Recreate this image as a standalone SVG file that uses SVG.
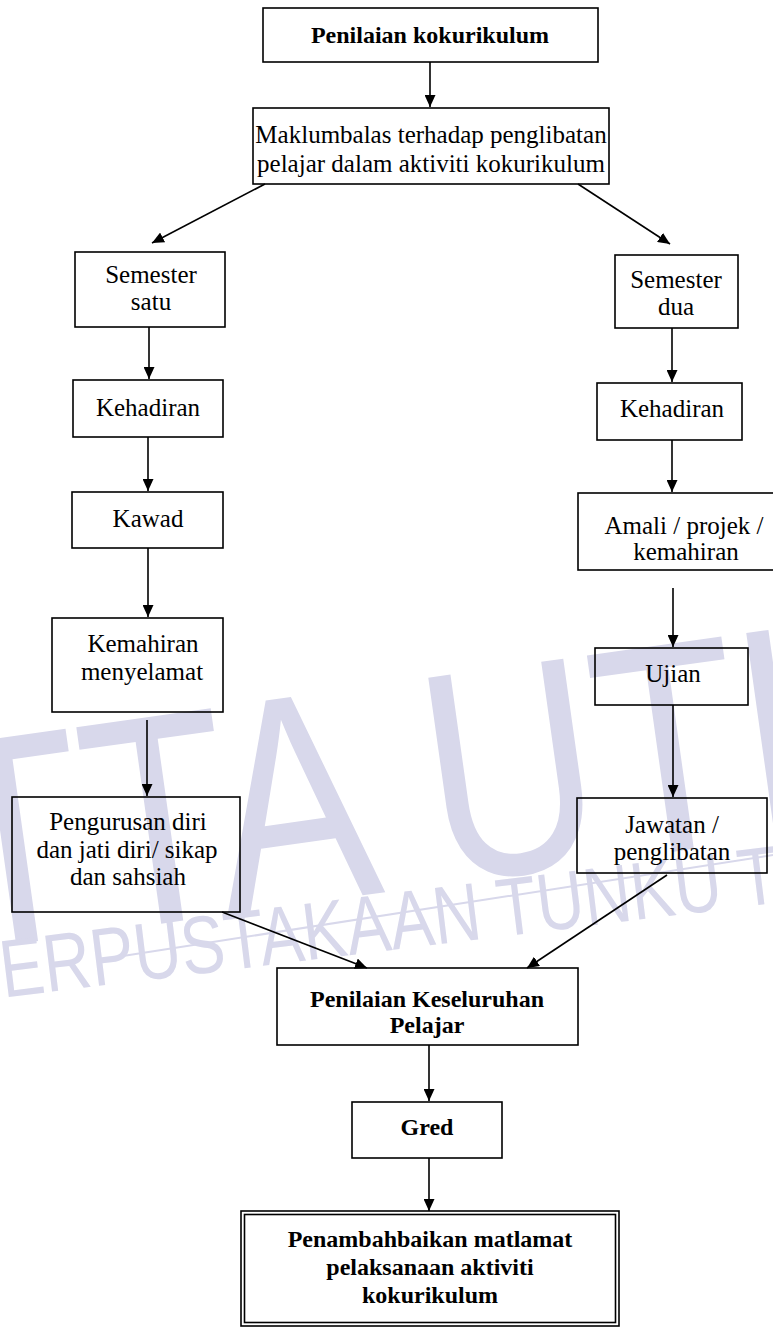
<svg xmlns="http://www.w3.org/2000/svg" width="773" height="1327" viewBox="0 0 773 1327">
<defs>
<style>
.box{fill:none;stroke:#000;stroke-width:1.6}
.t{font-family:"Liberation Serif","Times New Roman",serif;font-size:25px;fill:#000;text-anchor:middle}
.b{font-weight:bold;font-size:24px}
.c{stroke:#000;stroke-width:1.6;fill:none;marker-end:url(#ah)}
.wm{font-family:"Liberation Sans",Arial,sans-serif;fill:#d8d8eb}
</style>
<marker id="ah" markerUnits="userSpaceOnUse" markerWidth="12" markerHeight="11" refX="12" refY="5.5" orient="auto" viewBox="0 0 12 11">
<path d="M0,0 L12,5.5 L0,11 z" fill="#000"/>
</marker>
</defs>
<rect width="773" height="1327" fill="#fff"/>
<g id="watermark">
<text class="wm" font-size="300" transform="translate(-204,975) rotate(-8) scale(0.8,1)">PTTA UTHM</text>
<line x1="110" y1="958" x2="773" y2="855" stroke="#d8d8eb" stroke-width="2"/>
<text class="wm" font-size="82" transform="translate(-40,1003) rotate(-7) scale(0.8,1)">PERPUSTAKAAN TUNKU TUN AMINAH</text>
</g>
<g id="connectors">
<line class="c" x1="430" y1="62" x2="430" y2="107"/>
<line class="c" x1="265" y1="184" x2="152" y2="243"/>
<line class="c" x1="578" y1="184" x2="670" y2="244"/>
<line class="c" x1="149" y1="327" x2="149" y2="379"/>
<line class="c" x1="148" y1="437" x2="148" y2="491"/>
<line class="c" x1="148" y1="548" x2="148" y2="617"/>
<line class="c" x1="147" y1="720" x2="147" y2="796"/>
<line class="c" x1="672" y1="328" x2="672" y2="382"/>
<line class="c" x1="672" y1="440" x2="672" y2="492"/>
<line class="c" x1="673" y1="588" x2="673" y2="647"/>
<line class="c" x1="673" y1="705" x2="673" y2="797"/>
<line class="c" x1="222" y1="912" x2="367" y2="968"/>
<line class="c" x1="667" y1="875" x2="527" y2="968"/>
<line class="c" x1="429" y1="1045" x2="429" y2="1101"/>
<line class="c" x1="429" y1="1158" x2="429" y2="1211"/>
</g>
<g id="n1"><rect class="box" x="263" y="8" width="335" height="54"/><text class="t b" x="430" y="43">Penilaian kokurikulum</text></g>
<g id="n2"><rect class="box" x="253" y="108" width="356" height="76"/><text class="t" x="431" y="143">Maklumbalas terhadap penglibatan</text><text class="t" x="431" y="172">pelajar dalam aktiviti kokurikulum</text></g>
<g id="n3"><rect class="box" x="75" y="252" width="150" height="75"/><text class="t" x="151" y="283">Semester</text><text class="t" x="151" y="310">satu</text></g>
<g id="n4"><rect class="box" x="73" y="380" width="150" height="57"/><text class="t" x="148" y="416">Kehadiran</text></g>
<g id="n5"><rect class="box" x="72" y="492" width="151" height="56"/><text class="t" x="148" y="527">Kawad</text></g>
<g id="n6"><rect class="box" x="52" y="618" width="171" height="94"/><text class="t" x="143" y="652">Kemahiran</text><text class="t" x="142" y="680">menyelamat</text></g>
<g id="n7"><rect class="box" x="12" y="797" width="228" height="115"/><text class="t" x="128" y="830">Pengurusan diri</text><text class="t" x="127" y="858">dan jati diri/ sikap</text><text class="t" x="128" y="885">dan sahsiah</text></g>
<g id="n8"><rect class="box" x="615" y="255" width="123" height="73"/><text class="t" x="676" y="288">Semester</text><text class="t" x="676" y="315">dua</text></g>
<g id="n9"><rect class="box" x="597" y="383" width="145" height="57"/><text class="t" x="672" y="417">Kehadiran</text></g>
<g id="n10"><rect class="box" x="578" y="493" width="220" height="77"/><text class="t" x="684" y="534">Amali / projek /</text><text class="t" x="686" y="560">kemahiran</text></g>
<g id="n11"><rect class="box" x="595" y="648" width="153" height="57"/><text class="t" x="673" y="682">Ujian</text></g>
<g id="n12"><rect class="box" x="577" y="798" width="190" height="75"/><text class="t" x="672" y="833">Jawatan /</text><text class="t" x="672" y="860">penglibatan</text></g>
<g id="n13"><rect class="box" x="277" y="968" width="301" height="77"/><text class="t b" x="427" y="1007">Penilaian Keseluruhan</text><text class="t b" x="427" y="1033">Pelajar</text></g>
<g id="n14"><rect class="box" x="352" y="1102" width="150" height="56"/><text class="t b" x="427" y="1135">Gred</text></g>
<g id="n15"><rect class="box" x="241" y="1211" width="378" height="115"/><rect class="box" x="244.5" y="1214.5" width="371" height="108"/><text class="t b" x="430" y="1247">Penambahbaikan matlamat</text><text class="t b" x="430" y="1275">pelaksanaan aktiviti</text><text class="t b" x="430" y="1303">kokurikulum</text></g>
</svg>
